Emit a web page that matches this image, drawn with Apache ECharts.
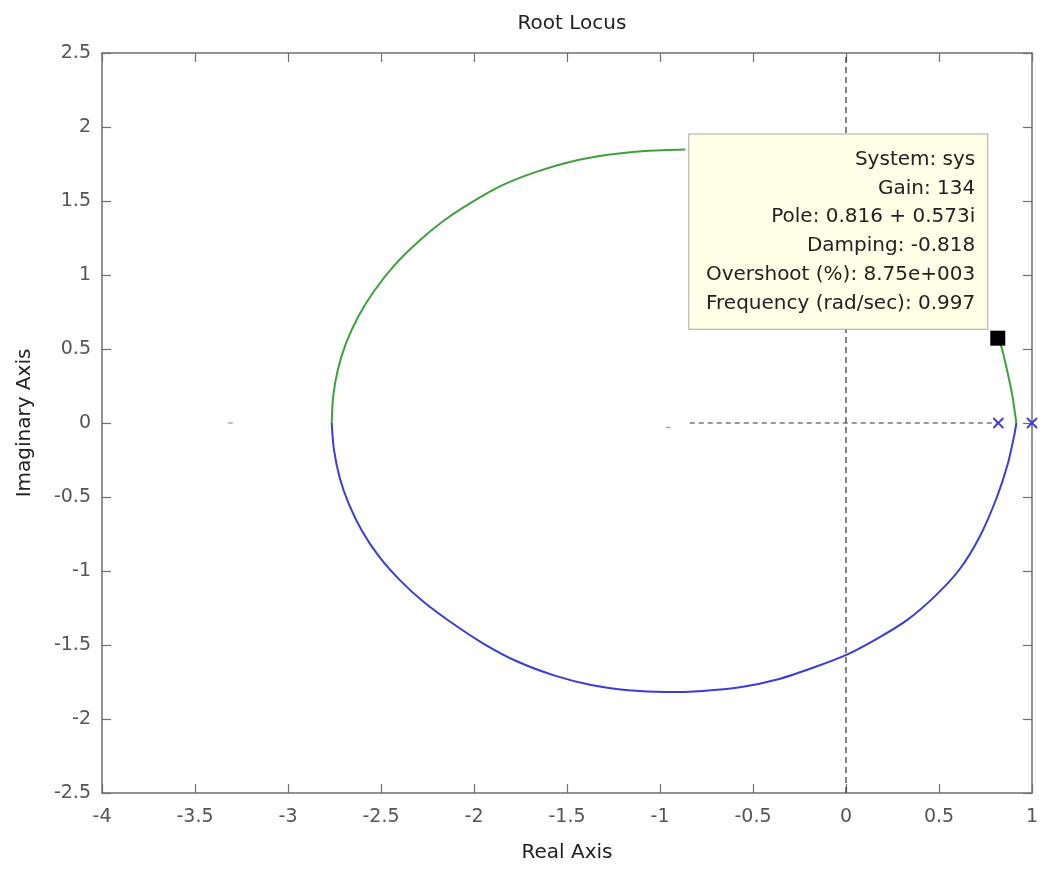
<!DOCTYPE html>
<html>
<head>
<meta charset="utf-8">
<script src="https://cdn.jsdelivr.net/npm/echarts@6/dist/echarts.min.js"></script>
<style>html,body{margin:0;padding:0;background:#fff;}#c{width:1043px;height:871px;}</style>
</head>
<body>
<div id="c"></div>
<script>
// ---- data ----
const xTickLabels = ['-4','-3.5','-3','-2.5','-2','-1.5','-1','-0.5','0','0.5','1'];
const yTickLabels = ['-2.5','-2','-1.5','-1','-0.5','0','0.5','1','1.5','2','2.5'];
const xRange = [-4, 1];
const yRange = [-2.5, 2.5];
const tickStep = 0.5;

// upper branch (green), visible part left of the data tip
const greenUpper = [
  [-2.765, 0], [-2.757, 0.18], [-2.732, 0.36], [-2.688, 0.54], [-2.622, 0.72],
  [-2.538, 0.89], [-2.425, 1.07], [-2.300, 1.225], [-2.170, 1.36], [-2.020, 1.485],
  [-1.850, 1.605], [-1.670, 1.695], [-1.480, 1.765], [-1.280, 1.812], [-1.080, 1.838],
  [-0.864, 1.848]
];
// upper branch (green), part below the data tip
const greenRight = [
  [0.816, 0.573], [0.838, 0.503], [0.858, 0.40], [0.874, 0.311], [0.895, 0.18],
  [0.910, 0.053], [0.916, 0]
];
// lower branch (blue)
const blueLower = [
  [-2.765, 0], [-2.753, -0.18], [-2.722, -0.37], [-2.672, -0.55], [-2.602, -0.73],
  [-2.512, -0.90], [-2.400, -1.06], [-2.270, -1.21], [-2.120, -1.35], [-1.950, -1.49],
  [-1.770, -1.61], [-1.570, -1.705], [-1.370, -1.77], [-1.170, -1.806], [-0.970, -1.818],
  [-0.770, -1.810], [-0.570, -1.786], [-0.370, -1.733], [-0.170, -1.650], [0.005, -1.565],
  [0.170, -1.455], [0.330, -1.33], [0.480, -1.168], [0.610, -0.990], [0.720, -0.765],
  [0.810, -0.505], [0.870, -0.275], [0.905, -0.080], [0.916, 0]
];
// open-loop poles (x markers)
const poles = [[0.819, 0], [1.0, 0]];
// faint real-axis remnants
const faintMarks = [[-3.31, 0], [-0.955, -0.03]];
// dashed reference lines
const realAxisDash = [[-0.84, 0], [0.819, 0]];
const imagAxisDash = [[0, -2.5], [0, 2.5]];
// data tip
const selectedPole = [0.816, 0.573];
const tipLines = [
  'System: sys',
  'Gain: 134',
  'Pole: 0.816 + 0.573i',
  'Damping: -0.818',
  'Overshoot (%): 8.75e+003',
  'Frequency (rad/sec): 0.997'
];

// ---- chart ----
const FONT = 'DejaVu Sans';
const axisGray = '#707070';
const fmt = (labels, min) => v => labels[Math.round((v - min) / tickStep)] ?? '';

function baseAxis(range, extra) {
  return Object.assign({
    type: 'value', min: range[0], max: range[1], interval: tickStep,
    splitLine: { show: false },
    axisLine: { show: true, onZero: false, lineStyle: { color: axisGray, width: 1.5 } },
    axisTick: { show: true, inside: true, length: 9, lineStyle: { color: axisGray, width: 1.2 } }
  }, extra);
}

const chart = echarts.init(document.getElementById('c'), null, { renderer: 'canvas' });
chart.setOption({
  backgroundColor: '#ffffff',
  animation: false,
  title: {
    text: 'Root Locus', left: 567, top: 9, textAlign: 'center',
    textStyle: { fontFamily: FONT, fontSize: 20, fontWeight: 'normal', color: '#222' }
  },
  grid: { left: 102, right: 11, top: 53, bottom: 78, containLabel: false },
  xAxis: [
    baseAxis(xRange, {
      position: 'bottom',
      name: 'Real Axis', nameLocation: 'middle', nameGap: 50,
      nameTextStyle: { fontFamily: FONT, fontSize: 20, color: '#222' },
      axisLabel: { show: true, margin: 15, fontFamily: FONT, fontSize: 19, color: '#555',
        formatter: fmt(xTickLabels, xRange[0]) }
    }),
    baseAxis(xRange, { position: 'top', axisLabel: { show: false } })
  ],
  yAxis: [
    baseAxis(yRange, {
      position: 'left',
      name: 'Imaginary Axis', nameLocation: 'middle', nameGap: 67, nameRotate: 90,
      nameTextStyle: { fontFamily: FONT, fontSize: 20, color: '#222' },
      axisLabel: { show: true, margin: 11, fontFamily: FONT, fontSize: 19, color: '#555',
        formatter: fmt(yTickLabels, yRange[0]) }
    }),
    baseAxis(yRange, { position: 'right', axisLabel: { show: false } })
  ],
  series: [
    { type: 'line', data: imagAxisDash, symbol: 'none', z: 1, silent: true,
      lineStyle: { color: '#333', width: 1.2, type: [6, 4] } },
    { type: 'line', data: realAxisDash, symbol: 'none', z: 1, silent: true,
      lineStyle: { color: '#333', width: 1.2, type: [5, 4] } },
    { type: 'line', data: greenUpper, symbol: 'none', smooth: 0.3, z: 3,
      lineStyle: { color: '#3fa03f', width: 2 } },
    { type: 'line', data: greenRight, symbol: 'none', smooth: 0.3, z: 3,
      lineStyle: { color: '#3fa03f', width: 2 } },
    { type: 'line', data: blueLower, symbol: 'none', smooth: 0.3, z: 3,
      lineStyle: { color: '#3c3cd6', width: 2 } },
    { type: 'scatter', data: faintMarks, symbol: 'rect', symbolSize: [5, 1.5], z: 2,
      itemStyle: { color: '#aaa', opacity: 1 } },
    { type: 'scatter', data: poles, symbol: 'path://M0,0L10,10M10,0L0,10', symbolSize: 10, z: 4,
      clip: false,
      itemStyle: { color: 'transparent', borderColor: '#3c3cd6', borderWidth: 1.8, opacity: 1 } },
    { type: 'scatter', data: [selectedPole], symbol: 'rect', symbolSize: 15, z: 10,
      itemStyle: { color: '#000', opacity: 1 },
      label: {
        show: true, position: [-3, -2], align: 'right', verticalAlign: 'bottom',
        formatter: tipLines.join('\n'),
        fontFamily: FONT, fontSize: 20, lineHeight: 28.7, color: '#222',
        backgroundColor: '#ffffe8', borderColor: '#a8a8a8', borderWidth: 1,
        padding: [11, 12, 11, 9], width: 277
      }
    }
  ]
});
</script>
</body>
</html>
